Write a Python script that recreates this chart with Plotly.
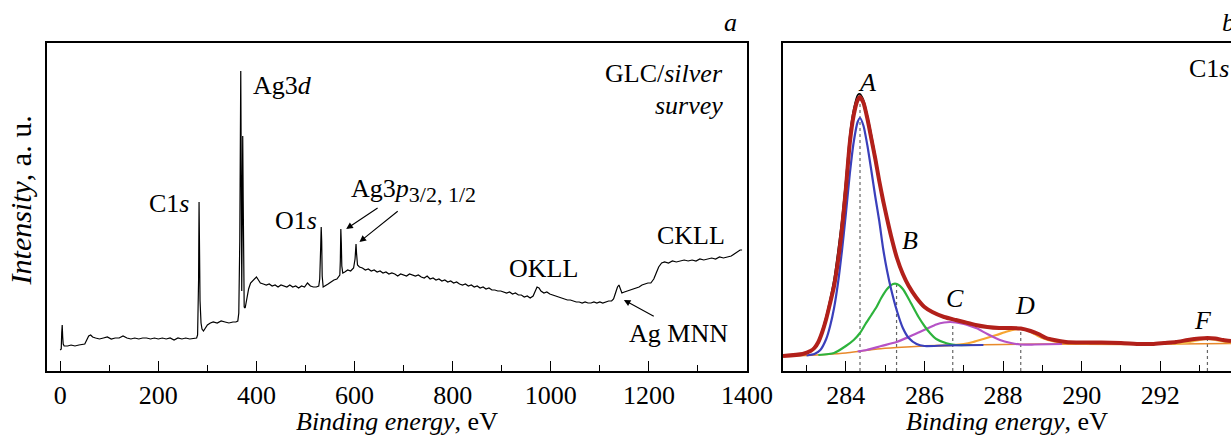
import plotly.graph_objects as go

# ---------------- Panel a: survey spectrum ----------------
survey_ev = [0, 2, 3, 4, 5, 6, 8, 15, 22, 30, 38, 45, 50, 54, 58, 62, 66, 72,
             80, 88, 96, 104, 112, 120, 128, 136, 144, 152, 160, 168, 176, 184, 192, 200,
             208, 216, 224, 232, 240, 248, 256, 264, 272, 278,
             280, 282, 283, 284, 285, 287, 289, 292, 296, 300, 306, 312, 320, 328, 336, 344, 352, 358, 362,
             364, 366, 367, 368, 369, 370, 371, 372, 373, 374, 375, 377, 380, 384, 388, 392, 396, 400, 404, 408, 414, 420,
             426, 432, 438, 444, 450, 456, 462, 468, 474, 480, 486, 492, 498, 504, 510, 516, 522, 527,
             529, 531, 532, 533, 534, 536, 540, 546, 552, 558, 564, 570,
             571, 572, 573, 574, 576, 580, 586, 592, 598, 601, 603, 604, 606, 610, 616, 622, 628,
             634, 640, 646, 652, 658, 664, 670, 676, 682, 688, 694, 700, 706, 712, 718, 724, 730, 736, 742, 748,
             754, 760, 766, 772, 778, 784, 790, 796, 802, 808, 814, 820, 826, 832, 838, 844, 850, 856, 862, 868,
             874, 880, 886, 892, 898, 904, 910, 916, 922, 928, 934, 940, 946, 952, 958, 964,
             968, 972, 976, 980, 986, 992, 998, 1004, 1010, 1016, 1022, 1028, 1034, 1040, 1046, 1052, 1058, 1064,
             1070, 1076, 1082, 1088, 1094, 1100, 1106, 1112, 1118, 1124, 1128,
             1132, 1136, 1139, 1142, 1145, 1150, 1156, 1162, 1168, 1174, 1180, 1186, 1192, 1198, 1204, 1210, 1215,
             1220, 1226, 1232, 1240, 1248, 1256, 1264, 1272, 1280, 1288, 1296, 1304, 1312, 1320, 1328, 1336, 1344,
             1352, 1360, 1368, 1374, 1380, 1386, 1390]
survey_int = [21, 22, 38, 46, 34, 27, 25, 25, 26, 25, 26, 27, 27, 31, 35, 36, 34, 33,
              32, 33, 34, 32, 33, 33, 35, 33, 32, 33, 32, 33, 33, 32, 33, 32,
              33, 32, 33, 31, 33, 32, 33, 32, 33, 33,
              36, 90, 169, 120, 70, 48, 42, 40, 43, 46, 48, 49, 48, 50, 49, 48, 49, 49, 50,
              58, 130, 210, 300, 200, 80, 150, 235, 170, 110, 64, 63, 72, 82, 88, 90, 92, 94, 91, 88, 87, 86,
              87, 85, 86, 84, 86, 85, 84, 86, 84, 85, 83, 85, 84, 88, 85, 84, 84, 85,
              92, 125, 144, 130, 95, 84, 85, 87, 89, 91, 92, 96,
              110, 142, 128, 105, 98, 99, 101, 100, 103, 112, 127, 118, 106, 104, 103, 101, 102,
              100, 101, 99, 100, 98, 99, 97, 98, 97, 95, 97, 96, 95, 97, 96, 95, 96, 94, 93, 95,
              92, 93, 91, 92, 90, 91, 89, 90, 88, 89, 87, 86, 87, 85, 86, 84, 85, 83, 84, 82,
              83, 81, 81, 80, 80, 79, 78, 79, 77, 78, 76, 76, 74, 75, 73, 75,
              80, 84, 83, 80, 78, 79, 77, 76, 75, 74, 73, 72, 71, 71, 70, 69, 69, 68,
              69, 68, 68, 69, 68, 69, 68, 69, 70, 70, 72,
              78, 84, 86, 82, 78, 79, 80, 81, 82, 83, 84, 86, 87, 88, 88, 92, 98,
              104, 108, 109, 108, 110, 109, 110, 111, 110, 111, 110, 112, 111, 112, 113, 112, 114,
              113, 114, 115, 117, 119, 121, 121]

survey_ticks = [0, 200, 400, 600, 800, 1000, 1200, 1400]

# ---------------- Panel b: C1s high resolution ----------------
env_ev = [282.4, 282.9, 283.1, 283.2, 283.3, 283.4, 283.5, 283.6, 283.7, 283.8, 283.9, 284.0, 284.1, 284.2,
          284.3, 284.36, 284.45, 284.55, 284.65, 284.75, 284.85, 284.95, 285.05, 285.15, 285.3, 285.45,
          285.6, 285.8, 286.0, 286.2, 286.5, 286.8, 287.0, 287.3, 287.6, 287.9, 288.2, 288.45, 288.7, 288.9,
          289.1, 289.3, 289.6, 290.0, 290.5, 291.0, 291.5, 291.8, 292.1, 292.4, 292.7, 293.0, 293.2, 293.4,
          293.6, 293.8]
env_int = [15, 17, 20, 23, 29, 39, 52, 68, 85, 110, 142, 182, 228, 256,
           271, 274, 268, 252, 232, 212, 190, 170, 152, 135, 113, 97,
           85, 73, 64, 59, 54, 51, 49, 46, 44, 43, 43, 42.5, 40, 37,
           33, 31, 29, 28.5, 28.5, 28, 27, 27, 28, 29, 31, 32.5, 33, 32.5,
           31, 30]
raw_int = [15, 17, 20, 24, 30, 41, 55, 72, 92, 120, 152, 192, 236, 262,
           276, 277, 271, 255, 236, 215, 192, 171, 152, 134, 112, 96,
           85, 73, 64, 59, 54, 51, 49, 46, 44, 43, 43, 42.5, 40, 37,
           33, 31, 29, 28.5, 28.5, 28, 27, 27, 28, 29, 31, 32.5, 33, 32.5,
           31, 30]

base_ev = [282.4, 283.0, 283.5, 284.0, 284.4, 284.8, 285.3, 286.0, 287.0, 288.0, 289.0, 291.0, 293.8]
base_int = [15, 15.5, 16.5, 18, 20, 22, 23.5, 25, 26, 26.5, 27, 26.5, 27.5]

a_ev = [283.0, 283.2, 283.35, 283.5, 283.6, 283.7, 283.8, 283.9, 284.0, 284.1, 284.2, 284.3, 284.36, 284.45, 284.55,
        284.65, 284.75, 284.85, 284.95, 285.05, 285.15, 285.3, 285.45, 285.6, 285.8, 286.0, 286.5, 287.5]
a_int = [15.5, 17, 21, 32, 45, 63, 88, 120, 157, 197, 229, 249, 253, 245, 225,
         200, 174, 150, 122, 100, 82, 60, 43, 33, 27, 25, 25.5, 26]

b_ev = [283.3, 283.7, 284.0, 284.2, 284.36, 284.5, 284.65, 284.78, 284.9, 285.05, 285.2, 285.3, 285.45,
        285.6, 285.71, 285.85, 286.0, 286.14, 286.3, 286.56, 286.8, 287.2]
b_int = [16, 18, 25, 31, 38, 47, 56, 64, 73, 82, 87, 87, 82,
         72, 64, 54, 45, 38, 32, 27.7, 26, 26]

c_ev = [284.3, 284.53, 284.9, 285.29, 285.6, 285.88, 286.1, 286.3, 286.5, 286.65, 286.8, 287.0, 287.2,
        287.33, 287.6, 287.92, 288.2, 288.43, 288.8, 289.5]
c_int = [19.5, 21, 25, 29, 34, 39, 43, 46.5, 48.5, 49, 48.5, 47, 44.5,
         42.7, 37, 31, 28, 26.5, 26.5, 27]

d_ev = [286.0, 286.73, 287.0, 287.24, 287.5, 287.83, 288.1, 288.3, 288.43, 288.6, 288.8, 289.0, 289.3,
        289.7, 290.2]
d_int = [25, 26, 27, 29, 32, 36, 39.5, 41.5, 42, 41, 37, 33, 29.5, 27.7, 27]

f_ev = [292.3, 292.6, 292.8, 293.0, 293.2, 293.4, 293.6, 293.8]
f_int = [27, 28, 29.5, 31, 32, 31, 29.5, 28.5]

peak_pos = [284.36, 285.29, 286.72, 288.45, 293.2]
peak_top = [274, 87, 49, 42, 33]
peak_names = ["A", "B", "C", "D", "F"]
c1s_ticks = [284, 286, 288, 290, 292]

FONT = "Liberation Serif"
FS = 26

fig = go.Figure()

fig.add_trace(go.Scatter(x=survey_ev, y=survey_int, mode="lines",
                         line=dict(color="black", width=1.2), xaxis="x", yaxis="y",
                         showlegend=False, hoverinfo="skip"))

# dotted guide lines (drawn first, below curves)
for xp, yt in zip(peak_pos, peak_top):
    fig.add_trace(go.Scatter(x=[xp, xp], y=[0, yt], mode="lines",
                             line=dict(color="#666666", width=1.2, dash="dot"),
                             xaxis="x2", yaxis="y2", showlegend=False, hoverinfo="skip"))

comp_style = [
    (base_ev, base_int, "#E8892B", 1.6),
    (d_ev, d_int, "#F7A531", 2.2),
    (c_ev, c_int, "#B552C6", 2.2),
    (b_ev, b_int, "#2DB33C", 2.2),
    (a_ev, a_int, "#3A3FBB", 2.2),
    (f_ev, f_int, "#F5C24A", 2.2),
]
for xs, ys, col, w in comp_style:
    fig.add_trace(go.Scatter(x=xs, y=ys, mode="lines", line=dict(color=col, width=w, shape="spline", smoothing=0.6),
                             xaxis="x2", yaxis="y2", showlegend=False, hoverinfo="skip"))

fig.add_trace(go.Scatter(x=env_ev, y=raw_int, mode="lines",
                         line=dict(color="black", width=1.6, shape="spline", smoothing=0.6),
                         xaxis="x2", yaxis="y2", showlegend=False, hoverinfo="skip"))
fig.add_trace(go.Scatter(x=env_ev, y=env_int, mode="lines",
                         line=dict(color="#B2201A", width=4, shape="spline", smoothing=0.6),
                         xaxis="x2", yaxis="y2", showlegend=False, hoverinfo="skip"))

axis_common = dict(showgrid=False, zeroline=False, showline=True, linecolor="black", linewidth=1.8,
                   ticks="inside", ticklen=10, tickwidth=1.3, tickcolor="black", automargin=False,
                   tickfont=dict(family=FONT, size=FS, color="black"))

fig.update_layout(
    width=1231, height=437, autosize=False,
    margin=dict(l=47, r=0, t=43, b=66, pad=0, autoexpand=False),
    paper_bgcolor="white", plot_bgcolor="white",
    font=dict(family=FONT, size=FS, color="black"),
    xaxis=dict(domain=[0, 0.5912], range=[-27, 1400], tickvals=survey_ticks, mirror=True,
               minor=dict(dtick=100, tick0=0, ticks="inside", ticklen=6, tickcolor="black", tickwidth=1.2),
               anchor="y", **axis_common),
    yaxis=dict(domain=[0, 1], range=[0, 328], showgrid=False, zeroline=False, showline=True, automargin=False,
               linecolor="black", linewidth=1.8, mirror=True, showticklabels=False, ticks="", anchor="x"),
    xaxis2=dict(domain=[0.6216, 1], range=[282.4, 293.8], tickvals=c1s_ticks, mirror=True,
                minor=dict(dtick=1, tick0=0, ticks="inside", ticklen=6, tickcolor="black", tickwidth=1.2),
                anchor="y2", **axis_common),
    yaxis2=dict(domain=[0, 1], range=[0, 328], showgrid=False, zeroline=False, showline=True, automargin=False,
                linecolor="black", linewidth=1.8, mirror=False, showticklabels=False, ticks="", anchor="x2"),
)

ann = []
def add(text, x, y, xref, yref, xanchor="center", yanchor="middle", size=FS, **kw):
    ann.append(dict(text=text, x=x, y=y, xref=xref, yref=yref, xanchor=xanchor, yanchor=yanchor,
                    showarrow=False, font=dict(family=FONT, size=size, color="black"), **kw))

# panel a labels
add("C1<i>s</i>", 267, 168, "x", "y", xanchor="right")
add("Ag3<i>d</i>", 389, 286, "x", "y", xanchor="left")
add("O1<i>s</i>", 528, 151, "x", "y", xanchor="right")
add("Ag3<i>p</i><sub><span style='font-size:22px'>3/2, 1/2</span></sub>", 589, 181, "x", "y", xanchor="left")
add("GLC/<i>silver</i>", 1356, 298, "x", "y", xanchor="right")
add("<i>survey</i>", 1356, 266, "x", "y", xanchor="right")
add("OKLL", 986, 103, "x", "y")
add("CKLL", 1285, 136, "x", "y")
add("Ag MNN", 1261, 38, "x", "y")

arrows = [((650, 164), (583, 142)), ((691, 161), (610, 129)), ((1213, 54), (1149, 71))]
for (tx, ty), (hx, hy) in arrows:
    ann.append(dict(x=hx, y=hy, ax=tx, ay=ty, xref="x", yref="y", axref="x", ayref="y",
                    showarrow=True, arrowhead=2, arrowsize=1.2, arrowwidth=1.1, arrowcolor="black", text=""))

# panel b labels
label_pos = [(284.53, 289), (285.63, 131), (286.77, 73), (288.55, 66), (293.08, 51)]
for name, (lx, ly) in zip(peak_names, label_pos):
    add("<i>%s</i>" % name, lx, ly, "x2", "y2")
add("C1<i>s</i>", 292.68, 303, "x2", "y2", xanchor="left")

# panel letters
add("<i>a</i>", 0.5777, 1.064, "paper", "paper")
add("<i>b</i>", 0.9905, 1.064, "paper", "paper", xanchor="left")

# axis titles
add("<i>Binding energy</i>, eV", 0.2956, -0.155, "paper", "paper")
add("<i>Binding energy</i>, eV", 0.8108, -0.155, "paper", "paper")
add("<i>Intensity</i>, a. u.", -0.0228, 0.52, "paper", "paper", size=30, textangle=-90)

fig.update_layout(annotations=ann)
fig.write_html(
    "out.html",
    config={"displayModeBar": False, "responsive": False},
    post_script="document.body.style.margin='0';document.body.style.padding='0';"
                "document.body.style.overflow='hidden';document.documentElement.style.overflow='hidden';",
)
